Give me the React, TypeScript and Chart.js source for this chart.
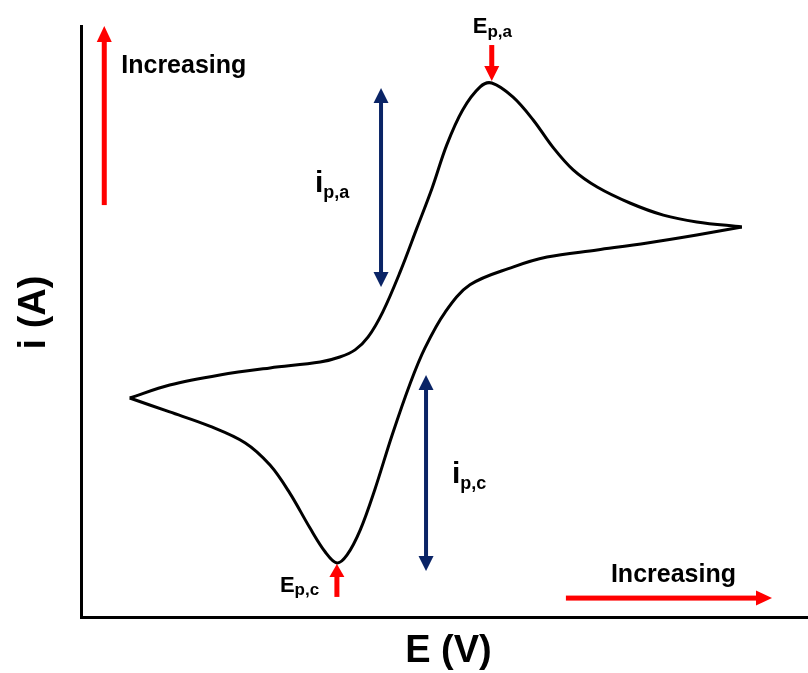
import React, { useEffect, useRef } from "react";
import { Chart, registerables } from "chart.js";

Chart.register(...registerables);

// Potential (V) and current (µA)
const forwardE = [-0.333, -0.278, -0.209, -0.140, -0.071, -0.044, -0.023, -0.005, 0.015, 0.039, 0.062, 0.083, 0.103, 0.125, 0.149, 0.165, 0.194, 0.222, 0.249, 0.277, 0.310, 0.355, 0.401, 0.447, 0.509];
const forwardI = [-2.59, -2.15, -1.81, -1.57, -1.37, -1.20, -0.96, -0.52, 0.32, 1.68, 3.16, 4.52, 5.97, 7.16, 7.94, 8.07, 7.60, 6.82, 5.90, 5.13, 4.55, 4.01, 3.60, 3.37, 3.20];
const reverseE = [0.509, 0.447, 0.379, 0.310, 0.241, 0.194, 0.135, 0.101, 0.073, 0.053, 0.028, 0.004, -0.016, -0.034, -0.048, -0.064, -0.085, -0.113, -0.140, -0.174, -0.223, -0.278, -0.333];
const reverseI = [3.20, 2.93, 2.66, 2.42, 2.18, 1.84, 1.24, 0.32, -0.90, -2.08, -3.84, -5.70, -7.06, -7.90, -8.17, -7.80, -6.99, -5.80, -4.86, -4.11, -3.54, -3.06, -2.59];

const xRange = [-0.4, 0.6];
const yRange = [-10, 10];

const axisTitles = { x: "E (V)", y: "i (A)" };
const increasingLabel = "Increasing";

// Annotation anchors (data units)
const ipaArrow = { e: 0.0127, i1: 7.9, i2: 1.17 };
const ipcArrow = { e: 0.0746, i1: -1.81, i2: -8.44 };
const yIncArrow = { e: -0.368, i1: 3.94, i2: 10.0 };
const xIncArrow = { i: -9.36, e1: 0.267, e2: 0.5505 };

const RED = "#FF0000";
const NAVY = "#0A2466";
const FONT = "'Liberation Sans', Arial, sans-serif";

function arrow(ctx: CanvasRenderingContext2D, x1: number, y1: number, x2: number, y2: number, color: string, w: number, hl: number, hw: number, both: boolean) {
  const ang = Math.atan2(y2 - y1, x2 - x1);
  const len = Math.hypot(x2 - x1, y2 - y1);
  ctx.save();
  ctx.translate(x1, y1);
  ctx.rotate(ang);
  ctx.fillStyle = color;
  const s0 = both ? hl - 1 : 0;
  ctx.fillRect(s0, -w / 2, len - hl + 1 - s0, w);
  ctx.beginPath();
  ctx.moveTo(len, 0);
  ctx.lineTo(len - hl, -hw / 2);
  ctx.lineTo(len - hl, hw / 2);
  ctx.closePath();
  ctx.fill();
  if (both) {
    ctx.beginPath();
    ctx.moveTo(0, 0);
    ctx.lineTo(hl, -hw / 2);
    ctx.lineTo(hl, hw / 2);
    ctx.closePath();
    ctx.fill();
  }
  ctx.restore();
}

function subText(ctx: CanvasRenderingContext2D, main: string, sub: string, x: number, base: number, ms: number, ss: number, drop: number) {
  ctx.save();
  ctx.fillStyle = "#000";
  ctx.textBaseline = "alphabetic";
  ctx.textAlign = "left";
  ctx.font = `bold ${ms}px ${FONT}`;
  ctx.fillText(main, x, base);
  const w = ctx.measureText(main).width;
  ctx.font = `bold ${ss}px ${FONT}`;
  ctx.fillText(sub, x + w, base + drop);
  ctx.restore();
}

const annotPlugin = {
  id: "annot",
  afterDatasetsDraw(chart: any) {
    const { ctx, scales } = chart;
    const X = (v: number) => scales.x.getPixelForValue(v);
    const Y = (v: number) => scales.y.getPixelForValue(v);

    // peaks
    let pa = 0;
    forwardI.forEach((v, k) => { if (v > forwardI[pa]) pa = k; });
    let pc = 0;
    reverseI.forEach((v, k) => { if (v < reverseI[pc]) pc = k; });
    const paX = X(forwardE[pa]), paY = Y(forwardI[pa]);
    const pcX = X(reverseE[pc]), pcY = Y(reverseI[pc]);

    // increasing arrows
    arrow(ctx, X(yIncArrow.e), Y(yIncArrow.i1), X(yIncArrow.e), Y(yIncArrow.i2), RED, 5, 16, 15, false);
    arrow(ctx, X(xIncArrow.e1), Y(xIncArrow.i), X(xIncArrow.e2), Y(xIncArrow.i), RED, 5, 16, 15, false);

    // peak potential arrows
    arrow(ctx, paX, paY - 38, paX, paY - 2, RED, 5, 15, 15, false);
    arrow(ctx, pcX, pcY + 34, pcX, pcY + 1, RED, 5, 13, 15, false);

    // peak current arrows
    arrow(ctx, X(ipaArrow.e), Y(ipaArrow.i1), X(ipaArrow.e), Y(ipaArrow.i2), NAVY, 4, 15, 15, true);
    arrow(ctx, X(ipcArrow.e), Y(ipcArrow.i1), X(ipcArrow.e), Y(ipcArrow.i2), NAVY, 4, 15, 15, true);

    ctx.save();
    ctx.fillStyle = "#000";
    ctx.font = `bold 25px ${FONT}`;
    ctx.textAlign = "left";
    ctx.textBaseline = "alphabetic";
    ctx.fillText(increasingLabel, X(yIncArrow.e) + 17, 73);
    ctx.fillText(increasingLabel, X(xIncArrow.e1) + 45, Y(xIncArrow.i) - 16);
    ctx.restore();

    subText(ctx, "E", "p,a", paX - 19, paY - 50, 22, 17, 4);
    subText(ctx, "E", "p,c", pcX - 57, pcY + 29, 22, 17, 3);
    subText(ctx, "i", "p,a", X(ipaArrow.e) - 66, (Y(ipaArrow.i1) + Y(ipaArrow.i2)) / 2 + 5, 30, 18, 6);
    subText(ctx, "i", "p,c", X(ipcArrow.e) + 26, (Y(ipcArrow.i1) + Y(ipcArrow.i2)) / 2 + 10, 30, 18, 6);

    // axis titles
    const ca = chart.chartArea;
    ctx.save();
    ctx.fillStyle = "#000";
    ctx.font = `bold 38px ${FONT}`;
    ctx.textAlign = "center";
    ctx.textBaseline = "alphabetic";
    ctx.fillText(axisTitles.x, (ca.left + ca.right) / 2 + 4, ca.bottom + 45);
    ctx.translate(ca.left - 36, (ca.top + ca.bottom) / 2 - 9);
    ctx.rotate(-Math.PI / 2);
    ctx.fillText(axisTitles.y, 0, 0);
    ctx.restore();
  },
};

export default function App() {
  const ref = useRef<HTMLCanvasElement | null>(null);
  useEffect(() => {
    if (!ref.current) return;
    const chart = new Chart(ref.current, {
      type: "scatter",
      data: {
        datasets: [
          {
            data: forwardE.map((e, k) => ({ x: e, y: forwardI[k] })),
            showLine: true,
            borderColor: "#000",
            borderWidth: 3,
            pointRadius: 0,
            tension: 0.35,
          },
          {
            data: reverseE.map((e, k) => ({ x: e, y: reverseI[k] })),
            showLine: true,
            borderColor: "#000",
            borderWidth: 3,
            pointRadius: 0,
            tension: 0.35,
          },
        ],
      },
      options: {
        animation: false,
        responsive: false,
        maintainAspectRatio: false,
        layout: { padding: { left: 81, top: 26, right: 0, bottom: 56 } },
        plugins: { legend: { display: false }, tooltip: { enabled: false } },
        scales: {
          x: {
            type: "linear",
            min: xRange[0],
            max: xRange[1],
            grid: { display: false },
            ticks: { display: false },
            border: { display: true, color: "#000", width: 3 },
            afterFit: (s: any) => { s.height = 0; },
          },
          y: {
            type: "linear",
            min: yRange[0],
            max: yRange[1],
            grid: { display: false },
            ticks: { display: false },
            border: { display: true, color: "#000", width: 3 },
            afterFit: (s: any) => { s.width = 0; },
          },
        },
      },
      plugins: [annotPlugin],
    });
    return () => chart.destroy();
  }, []);
  return (
    <div style={{ position: "absolute", left: 0, top: 0, width: 808, height: 673, background: "#fff" }}>
      <canvas ref={ref} width={808} height={673} style={{ width: 808, height: 673, display: "block" }} />
    </div>
  );
}
